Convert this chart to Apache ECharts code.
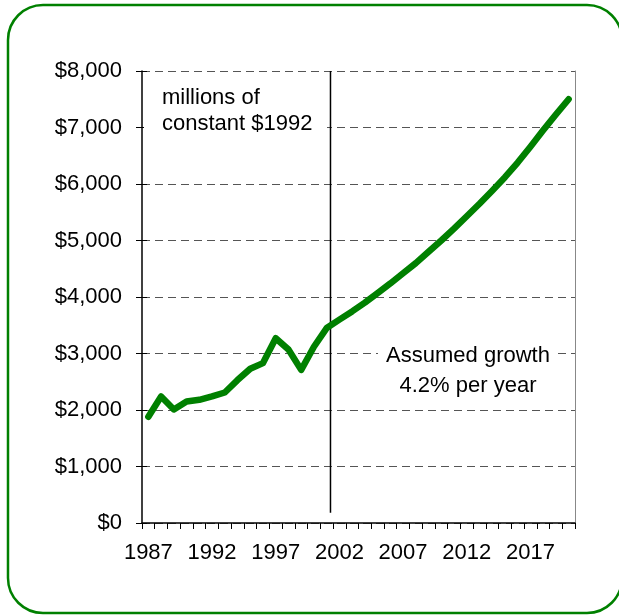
<!DOCTYPE html>
<html>
<head>
<meta charset="utf-8">
<style>html,body{margin:0;padding:0;background:#fff;}#c{width:619px;height:615px;}</style>
<script src="https://cdn.jsdelivr.net/npm/echarts@6/dist/echarts.min.js"></script>
</head>
<body>
<div id="c"></div>
<script>
const years = ['1987','1988','1989','1990','1991','1992','1993','1994','1995','1996','1997','1998','1999','2000','2001','2002','2003','2004','2005','2006','2007','2008','2009','2010','2011','2012','2013','2014','2015','2016','2017','2018','2019','2020'];
const values = [1880,2240,2010,2150,2180,2240,2310,2530,2730,2830,3270,3070,2710,3120,3450,3600,3745,3900,4070,4240,4420,4600,4800,5000,5210,5430,5650,5880,6120,6380,6660,6950,7230,7500];
const yTicks = [0,1000,2000,3000,4000,5000,6000,7000,8000];
const dividerYear = 2001.3;
const dividerSpan = [180, 8000];
const noteLeft = ['millions of', 'constant $1992'];
const noteRight = ['Assumed growth', '4.2% per year'];

const FONT = '"Liberation Sans", Arial, sans-serif';
const chart = echarts.init(document.getElementById('c'), null, {renderer: 'canvas'});
chart.setOption({
  animation: false,
  backgroundColor: '#fff',
  textStyle: {fontFamily: FONT},
  grid: {left: 142, right: 44, top: 71, bottom: 92, containLabel: false},
  xAxis: [{
    type: 'category',
    data: years,
    boundaryGap: true,
    axisLine: {lineStyle: {color: '#000', width: 1.5}},
    axisTick: {show: true, interval: 0, length: 6, lineStyle: {color: '#000', width: 1}},
    axisLabel: {interval: 4, color: '#000', fontSize: 22, fontFamily: FONT, margin: 19},
    splitLine: {show: false}
  }, {
    type: 'value',
    min: 1986.5, max: 2020.5,
    show: false
  }],
  yAxis: [{
    type: 'value',
    min: yTicks[0], max: yTicks[yTicks.length - 1], interval: 1000,
    axisLine: {show: true, lineStyle: {color: '#000', width: 1.5}},
    axisTick: {show: true, length: 6, lineStyle: {color: '#000'}},
    axisLabel: {color: '#000', fontSize: 22, fontFamily: FONT, margin: 20,
      formatter: v => '$' + v.toLocaleString('en-US')},
    splitLine: {show: true, lineStyle: {color: '#555', type: [8, 5], width: 1}}
  }, {
    type: 'value', position: 'left',
    min: yTicks[0], max: yTicks[yTicks.length - 1], interval: 1000,
    axisLine: {show: false},
    axisTick: {show: true, inside: true, length: 5, lineStyle: {color: '#000'}},
    axisLabel: {show: false},
    splitLine: {show: false}
  }, {
    type: 'value', position: 'right',
    min: yTicks[0], max: yTicks[yTicks.length - 1], interval: 1000,
    axisLine: {show: true, lineStyle: {color: '#888', width: 1}},
    axisTick: {show: false},
    axisLabel: {show: false},
    splitLine: {show: false}
  }],
  series: [{
    type: 'line',
    xAxisIndex: 1, yAxisIndex: 0,
    data: [[dividerYear, dividerSpan[1]], [dividerYear, dividerSpan[0]]],
    symbol: 'none',
    lineStyle: {color: '#000', width: 1.5},
    silent: true, z: 3
  }, {
    type: 'line',
    xAxisIndex: 0, yAxisIndex: 0,
    data: values,
    symbol: 'none',
    lineStyle: {color: '#008000', width: 6.5, cap: 'round', join: 'round'},
    z: 5
  }],
  graphic: [
    {type: 'rect', shape: {x: 8, y: 5, width: 614, height: 608, r: 35},
     style: {fill: 'none', stroke: '#008000', lineWidth: 2.5}, z: 10, silent: true},
    {type: 'rect', shape: {x: 144, y: 80, width: 183, height: 54},
     style: {fill: '#fff'}, z: 2},
    {type: 'text', left: 162, top: 85, z: 6,
     style: {text: noteLeft.join('\n'), font: '22px ' + FONT, fill: '#000', lineHeight: 26, align: 'left'}},
    {type: 'rect', shape: {x: 378, y: 342, width: 179, height: 54},
     style: {fill: '#fff'}, z: 2},
    {type: 'text', x: 468, y: 341, z: 6,
     style: {text: noteRight.join('\n'), font: '22px ' + FONT, fill: '#000', lineHeight: 30, align: 'center'}}
  ]
});
</script>
</body>
</html>
